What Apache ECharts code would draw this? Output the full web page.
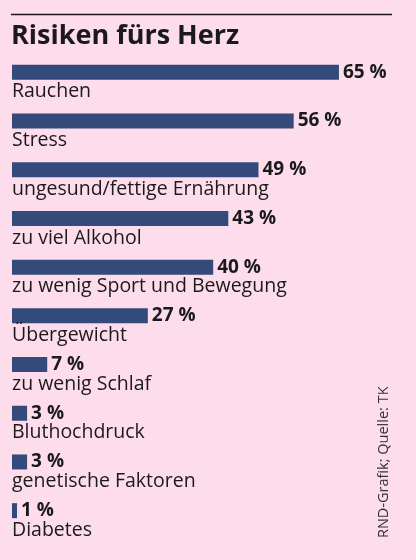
<!DOCTYPE html>
<html>
<head>
<meta charset="utf-8">
<script src="https://cdn.jsdelivr.net/npm/echarts@6/dist/echarts.min.js"></script>
<style>
html,body{margin:0;padding:0;background:#fddcec;}
#c{width:416px;height:560px;}
</style>
</head>
<body>
<div id="c"></div>
<script>
var categories = ['Rauchen','Stress','ungesund/fettige Ernährung','zu viel Alkohol','zu wenig Sport und Bewegung','Übergewicht','zu wenig Schlaf','Bluthochdruck','genetische Faktoren','Diabetes'];
var values = [65,56,49,43,40,27,7,3,3,1];

var chart = echarts.init(document.getElementById('c'), null, {renderer:'canvas'});
var fontBody = '"Open Sans", sans-serif';
chart.setOption({
  backgroundColor:'#fddcec',
  animation:false,
  grid:{left:12, top:48, height:487, width:352.1, containLabel:false},
  xAxis:{type:'value', min:0, max:70, show:false},
  yAxis:{type:'category', data:categories, inverse:true, show:false},
  graphic:[
    {type:'line', shape:{x1:11,y1:14.5,x2:392,y2:14.5}, style:{stroke:'#1a1a1a', lineWidth:1.6}},
    {type:'text', left:11, top:23, style:{text:'Risiken fürs Herz', font:'bold 27px "Open Sans", sans-serif', fill:'#1a1a1a'}},
    {type:'text', x:376, y:538, rotation:Math.PI/2, style:{text:'RND-Grafik; Quelle: TK', font:'14.5px "Open Sans", sans-serif', fill:'#333333', align:'left', verticalAlign:'top'}}
  ],
  series:[
    {
      type:'bar', data:values, barWidth:15,
      itemStyle:{color:'#344a7a'},
      label:{show:true, position:'right', distance:4, formatter:'{c} %', color:'#1a1a1a', fontFamily:fontBody, fontWeight:'bold', fontSize:19}
    },
    {
      type:'bar', data:values, barWidth:15, barGap:'-100%',
      itemStyle:{color:'rgba(0,0,0,0)'},
      silent:true,
      label:{show:true, position:[0,'100%'], offset:[0,2], formatter:'{b}', color:'#1a1a1a', fontFamily:fontBody, fontSize:19.5, align:'left', verticalAlign:'top'}
    }
  ]
});
</script>
</body>
</html>
